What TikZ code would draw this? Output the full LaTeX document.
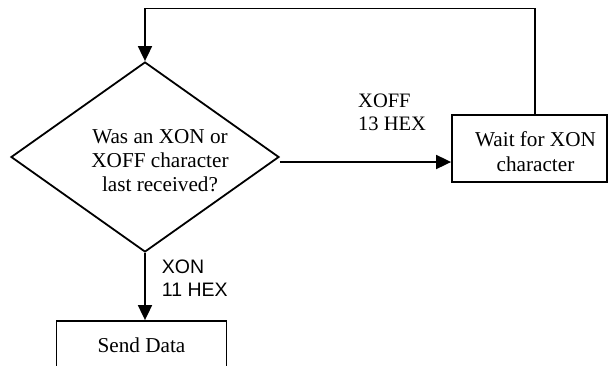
\documentclass[tikz,border=0pt]{standalone}
\usepackage{fontspec}
\setmainfont{Liberation Serif}
\newfontfamily\arialfont{Liberation Sans}
\usetikzlibrary{shapes.geometric,arrows.meta}
\begin{document}
\begin{tikzpicture}[x=1pt,y=-1pt,
  every node/.style={inner sep=0pt},
  ln/.style={line width=1.8pt},
  arr/.style={ln,-{Triangle[length=15pt,width=14pt]}},
  boxnode/.style={draw,ln,rectangle},
  tmsfont/.style={font=\fontsize{21.2}{24}\selectfont},
  lbl/.style={align=left,anchor=north west}
]
\useasboundingbox (0,0) rectangle (608,365);
\clip (0,0) rectangle (608,365);
% decision
\node[draw,ln,shape=diamond,minimum width=268pt,minimum height=190pt] (d) at (145,157) {};
\node[tmsfont,align=center,anchor=north] (dt) at (160,129.5) {Was an XON or\\XOFF character\\last received?};
% wait box
\node[boxnode,minimum width=155pt,minimum height=67pt] (w) at (529.5,148.5) {};
\node[align=center,anchor=north,font=\fontsize{21.2}{25}\selectfont] (wt) at (535.5,131.5) {Wait for XON\\character};
% send box
\node[boxnode,minimum width=170pt,minimum height=48pt,tmsfont] (s) at (141.5,345) {Send Data};
% labels
\node[lbl,font=\fontsize{20.5}{23.3}\selectfont] (l1) at (358,93.3) {XOFF\\13 HEX};
\node[lbl,font=\arialfont\fontsize{19.5}{23.3}\selectfont] (l2) at (161.7,259.3) {XON\\11 HEX};
% connectors
\coordinate (top) at (145,8.5);
\draw[arr] ([yshift=-5pt]d.east) -- ([yshift=-5pt]d.east -| w.west);
\draw[arr] ([xshift=5.5pt]w.north) |- (top) -- (d.north);
\draw[arr] (d.south) -- (d.south |- s.north);
\end{tikzpicture}
\end{document}
